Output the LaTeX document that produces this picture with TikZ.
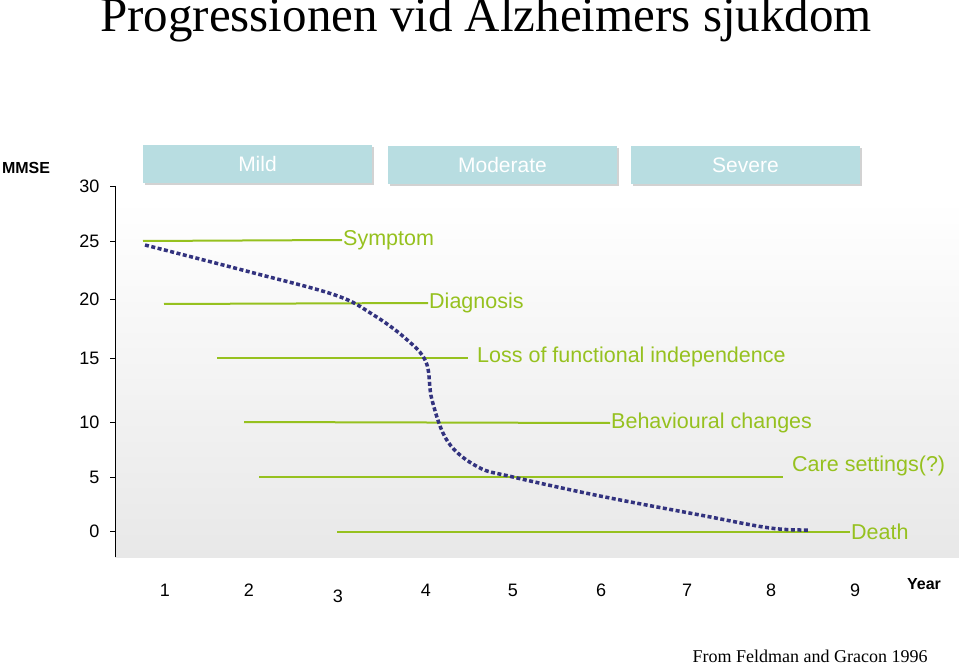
\documentclass[tikz,border=0pt]{standalone}
\usepackage{fontspec}
\setmainfont{Liberation Serif}
\setsansfont{Liberation Sans}
\usetikzlibrary{shadows}
\begin{document}
\begin{tikzpicture}[x=1pt,y=-1pt,
  stage/.style={fill=boxc,draw=none,minimum width=229pt,minimum height=38pt,inner sep=0pt,text=white,font=\sffamily\fontsize{21}{21}\selectfont,drop shadow={shadow xshift=2pt,shadow yshift=-2pt,fill=gray!70}},
  gl/.style={draw=grn,line width=2pt},
  glab/.style={text=grn,font=\sffamily\fontsize{21.5}{21.5}\selectfont,anchor=west,inner sep=1pt},
  ylab/.style={font=\sffamily\fontsize{18}{18}\selectfont,anchor=east},
  xlab/.style={font=\sffamily\fontsize{18}{18}\selectfont}]
\definecolor{boxc}{HTML}{B8DDE1}
\definecolor{grn}{HTML}{96C11F}
\definecolor{navy}{HTML}{33337F}
\useasboundingbox (0,0) rectangle (959,663);
\shade[top color=white,bottom color=black!9] (115,200) rectangle (959,557);
\node (title) at (486,20) {\fontsize{49}{49}\selectfont Progressionen vid Alzheimers sjukdom};
\node (mmse) at (26,168) {\sffamily\bfseries\fontsize{16}{16}\selectfont MMSE};
\draw[black] (115,186) -- (115,557);
\foreach \v/\y in {30/186,25/241,20/299,15/358,10/422,5/477,0/531}{
  \draw (110,\y) -- (115,\y);
  \node[ylab] at (103,\y) {\v};}
\foreach \v/\x/\y in {1/165/590,2/249/590,3/338/596,4/426/590,5/513/590,6/601/590,7/687/590,8/771/590,9/855/590}{
  \node[xlab] at (\x,\y) {\v};}
\node (year) at (924,584) {\sffamily\bfseries\fontsize{16}{16}\selectfont Year};
\node (mild) at (257.5,164) [stage] {Mild};
\node (mod) at (502.5,165) [stage] {Moderate};
\node (sev) at (745.5,165) [stage] {Severe};
\coordinate (s1) at (143,241); \node[glab] (sym) at (342,240) {Symptom};
\draw[gl] (s1) -- (sym.west);
\coordinate (d1) at (164,304); \node[glab] (dia) at (428,303) {Diagnosis};
\draw[gl] (d1) -- (dia.west);
\coordinate (l1) at (217,358); \node[glab] (loss) at (476,357) {Loss of functional independence};
\draw[gl] (l1) -- (468,358);
\coordinate (b1) at (244,422); \node[glab] (beh) at (610,423) {Behavioural changes};
\draw[gl] (b1) -- (beh.west);
\coordinate (c1) at (259,477); \coordinate (c2) at (783,477); \node[glab] (care) at (791,466) {Care settings(?)};
\draw[gl] (c1) -- (c2);
\coordinate (de1) at (337,532); \node[glab] (death) at (850,532) {Death};
\draw[gl] (de1) -- (death.west);
\draw[navy,line width=3.5pt,dash pattern=on 4pt off 2.5pt] plot[smooth,tension=0.6] coordinates {(145,245) (250,272) (335,295) (372,314) (405,338) (426,362) (432,400) (448,442) (478,467) (513,477) (600,496) (700,515) (770,528) (810,530)};
\node (src) at (810,656) {\fontsize{18}{18}\selectfont From Feldman and Gracon 1996};
\end{tikzpicture}
\end{document}
